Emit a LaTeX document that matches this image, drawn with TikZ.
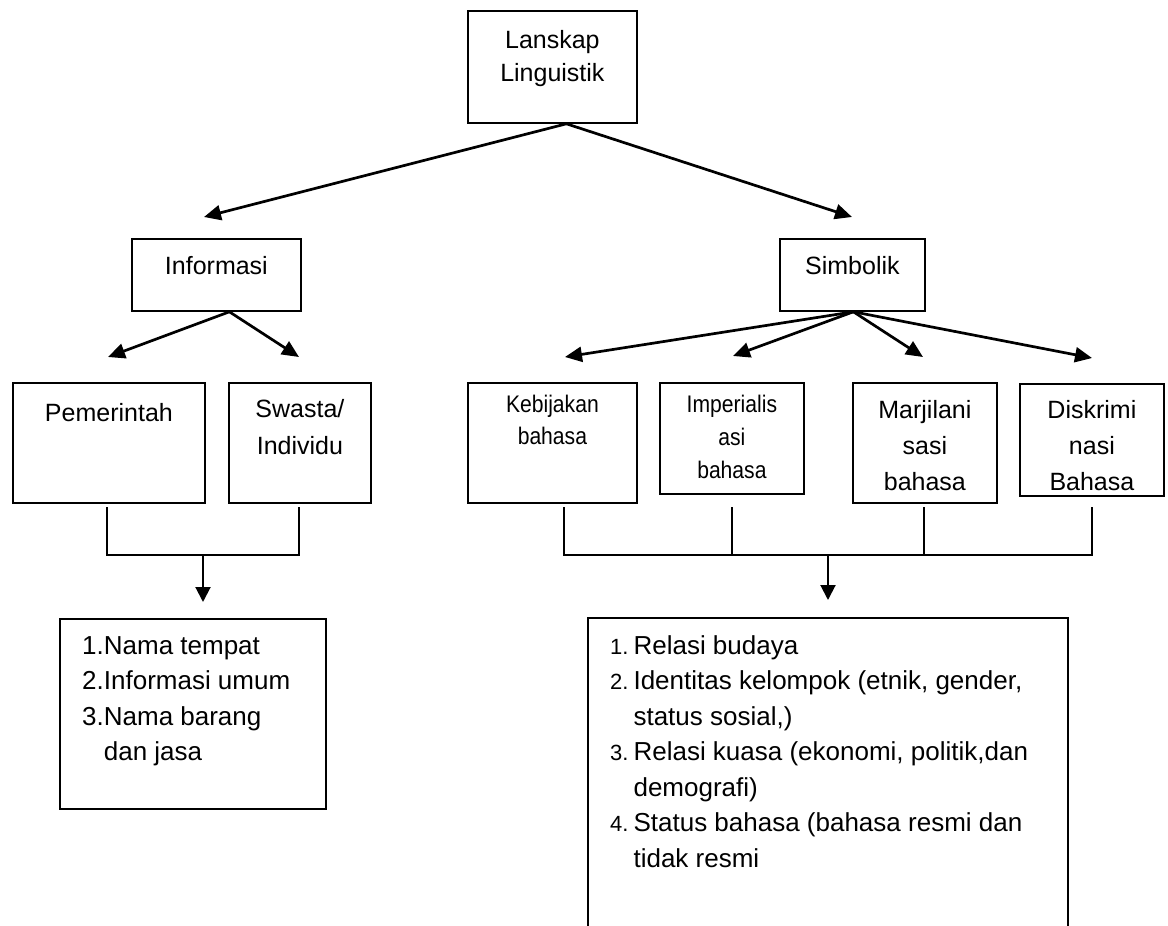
\documentclass[tikz,border=0pt]{standalone}
\usepackage{fontspec}
\setmainfont{Liberation Sans}
\newfontfamily\narrowfont[FakeStretch=0.88]{Liberation Sans}
\usetikzlibrary{arrows.meta, positioning, calc}

\begin{document}
\begin{tikzpicture}[
    x=1pt, y=-1pt,
    box/.style={draw=black, line width=1.8pt, inner sep=0pt, anchor=north west},
    lbl/.style={align=center, inner sep=0pt, font=\fontsize{25}{36}\selectfont},
    sempit/.style={lbl, font=\narrowfont\fontsize{24}{33}\selectfont},
    daftar/.style={anchor=north west, inner sep=0pt, font=\fontsize{26}{35.5}\selectfont},
    arr/.style={-{Triangle[length=17pt, width=15pt]}, line width=2.7pt},
    turun/.style={-{Triangle[length=15pt, width=15pt]}, line width=2pt},
    link/.style={line width=2pt},
  ]
    \useasboundingbox (0,0) rectangle (1168,926);

    % top
    \node[box, minimum width=169pt, minimum height=112pt] (lanskap) at (467,10) {};
    \node[lbl, font=\fontsize{25}{33}\selectfont, below=20pt of lanskap.north] (lanskapteks) {Lanskap\\Linguistik};

    % level 2
    \node[box, minimum width=169pt, minimum height=72pt] (informasi) at (131,238) {};
    \node[lbl, below=18pt of informasi.north] (informasiteks) {Informasi};
    \node[box, minimum width=145pt, minimum height=72pt] (simbolik) at (779,238) {};
    \node[lbl, below=18pt of simbolik.north] (simbolikteks) {Simbolik};

    % level 3, left
    \node[box, minimum width=192pt, minimum height=120pt] (pemerintah) at (12,382) {};
    \node[lbl, below=21pt of pemerintah.north] (pemerintahteks) {Pemerintah};
    \node[box, minimum width=142pt, minimum height=120pt] (swasta) at (228,382) {};
    \node[lbl, font=\fontsize{25}{37}\selectfont, below=17pt of swasta.north] (swastateks) {Swasta/\\Individu};

    % level 3, right
    \node[box, minimum width=169pt, minimum height=120pt] (kebijakan) at (467,382) {};
    \node[sempit, font=\narrowfont\fontsize{24}{32}\selectfont, below=13pt of kebijakan.north] (kebijakanteks) {Kebijakan\\bahasa};
    \node[box, minimum width=144pt, minimum height=111pt] (imperialis) at (659,382) {};
    \node[sempit, below=13pt of imperialis.north] (imperialisteks) {Imperialis\\asi\\bahasa};
    \node[box, minimum width=144pt, minimum height=120pt] (marjinal) at (852,382) {};
    \node[lbl, below=18pt of marjinal.north] (marjinalteks) {Marjilani\\sasi\\bahasa};
    \node[box, minimum width=144pt, minimum height=112pt] (diskriminasi) at (1019,383) {};
    \node[lbl, below=17pt of diskriminasi.north] (diskriminasiteks) {Diskrimi\\nasi\\Bahasa};

    % lists
    \node[box, minimum width=266pt, minimum height=190pt] (daftarinfo) at (59,618) {};
    \node[daftar] (daftarinfoteks) at (82,629) {%
      \begin{tabular}{@{}l@{}l@{}}
        1.&Nama tempat\\
        2.&Informasi umum\\
        3.&Nama barang\\
          &dan jasa
      \end{tabular}};
    \draw[link, line width=1.8pt] (588,926) |- (1068,618) coordinate (daftarsimbol) -- (1068,926);
    \node[daftar] (daftarsimbolteks) at (610,629) {%
      \begin{tabular}{@{}l@{\hspace{5pt}}l@{}}
        {\fontsize{22}{35.5}\selectfont 1.}&Relasi budaya\\
        {\fontsize{22}{35.5}\selectfont 2.}&Identitas kelompok (etnik, gender,\\
          &status sosial,)\\
        {\fontsize{22}{35.5}\selectfont 3.}&Relasi kuasa (ekonomi, politik,dan\\
          &demografi)\\
        {\fontsize{22}{35.5}\selectfont 4.}&Status bahasa (bahasa resmi dan\\
          &tidak resmi
      \end{tabular}};

    % arrow tips and joints
    \coordinate (keinfo) at (204,217);
    \coordinate (kesimbol) at (852,217);
    \coordinate (kepem) at (108,357);
    \coordinate (keswa) at (299,357);
    \coordinate (kekeb) at (565,357);
    \coordinate (keimp) at (733,356);
    \coordinate (kemar) at (923,357);
    \coordinate (kedis) at (1092,358);
    \coordinate (gabkiri) at (203,555);
    \coordinate (gabkanan) at (828,555);

    % arrows
    \draw[arr] ([xshift=14pt]lanskap.south) -- (keinfo);
    \draw[arr] ([xshift=14pt]lanskap.south) -- (kesimbol);
    \draw[arr] ([xshift=13pt]informasi.south) -- (kepem);
    \draw[arr] ([xshift=13pt]informasi.south) -- (keswa);
    \draw[arr] ([xshift=1pt]simbolik.south) -- (kekeb);
    \draw[arr] ([xshift=1pt]simbolik.south) -- (keimp);
    \draw[arr] ([xshift=1pt]simbolik.south) -- (kemar);
    \draw[arr] ([xshift=1pt]simbolik.south) -- (kedis);

    % joins
    \draw[link] (107,507) |- (gabkiri) -| (299,507);
    \draw[link] (564,507) |- (gabkanan) -| (1092,507);
    \draw[link] (732,507) -- (732,555);
    \draw[link] (924,507) -- (924,555);
    \draw[turun] (gabkiri) -- (203,602);
    \draw[turun] (gabkanan) -- (828,600);
  \end{tikzpicture}
\end{document}
